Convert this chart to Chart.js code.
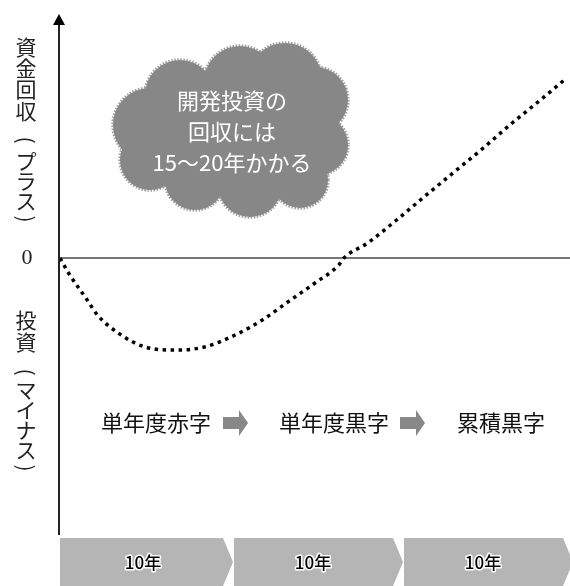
<!DOCTYPE html>
<html>
<head>
<meta charset="utf-8">
<script src="https://cdn.jsdelivr.net/npm/chart.js@4"></script>
<style>
html, body { margin: 0; padding: 0; background: #fff; }
</style>
</head>
<body>
<canvas id="chart" width="570" height="586"></canvas>
<script>
// curve: years since start, cumulative cash (arbitrary units)
const years  = [0, 0.5, 1.6, 2.2, 3.6, 5.0, 6.8, 8.5, 10.3, 11.9, 13.4, 15.0, 16.4, 16.7, 18.1, 19.8, 21.2, 22.9, 24.9, 26.6, 28.4, 29.8];
const values = [0, -15, -42, -57, -77, -89, -92, -89, -77, -62, -44, -25, -7, 0, 15, 38, 58, 82, 110, 135, 160, 180];

const periods = ['10年', '10年', '10年'];
const periodBounds = [0, 10, 20, 30];
const stages = ['単年度赤字', '単年度黒字', '累積黒字'];
const cloudLines = ['開発投資の', '回収には', '15〜20年かかる'];
const upperLabel = '資金回収（プラス）';
const lowerLabel = '投資（マイナス）';
const zeroLabel = '0';

const JP = '"Noto Sans CJK JP", sans-serif';

function drawVertical(ctx, str, x, centers) {
    [...str].forEach((ch, i) => {
        ctx.save();
        ctx.translate(x, centers[i]);
        if (ch === '（' || ch === '）') {
            ctx.rotate(Math.PI / 2);
            ch = ch === '（' ? '(' : ')';
        }
        ctx.fillText(ch, 0, 0);
        ctx.restore();
    });
}

function drawCloud(ctx) {
    const lobes = [
        [150, 125, 37], [180, 95, 35], [240, 82, 36], [285, 80, 37], [315, 100, 33],
        [318, 145, 30], [300, 180, 28], [250, 185, 32], [195, 180, 30], [150, 160, 30],
        [232, 135, 60], [285, 130, 36]
    ];
    ctx.save();
    ctx.strokeStyle = '#a0a0a0';
    ctx.lineWidth = 3.5;
    ctx.setLineDash([1.5, 1.5]);
    lobes.forEach(([cx, cy, r]) => {
        ctx.beginPath(); ctx.arc(cx, cy, r, 0, Math.PI * 2); ctx.stroke();
    });
    ctx.setLineDash([]);
    ctx.fillStyle = '#878787';
    lobes.forEach(([cx, cy, r]) => {
        ctx.beginPath(); ctx.arc(cx, cy, r, 0, Math.PI * 2); ctx.fill();
    });
    ctx.fillStyle = '#fff';
    ctx.font = '22px ' + JP;
    ctx.textAlign = 'center';
    ctx.textBaseline = 'middle';
    cloudLines.forEach((t, i) => ctx.fillText(t, 232, 101 + i * 31));
    ctx.restore();
}

const extras = {
    id: 'extras',
    beforeDatasetsDraw(chart) {
        const {ctx, chartArea: a, scales: {x, y}} = chart;
        const y0 = y.getPixelForValue(0);
        ctx.save();
        // zero line
        ctx.strokeStyle = '#777';
        ctx.lineWidth = 2;
        ctx.beginPath(); ctx.moveTo(a.left, y0); ctx.lineTo(a.right, y0); ctx.stroke();
        // vertical axis + arrow
        ctx.strokeStyle = '#222';
        ctx.beginPath(); ctx.moveTo(a.left - 1, a.top + 2); ctx.lineTo(a.left - 1, a.bottom); ctx.stroke();
        ctx.fillStyle = '#000';
        ctx.beginPath();
        ctx.moveTo(a.left - 1, a.top - 6);
        ctx.lineTo(a.left - 7, a.top + 5);
        ctx.lineTo(a.left + 5, a.top + 5);
        ctx.closePath(); ctx.fill();

        // y labels
        ctx.fillStyle = '#222';
        ctx.textAlign = 'center';
        ctx.textBaseline = 'middle';
        ctx.font = '21px ' + JP;
        drawVertical(ctx, upperLabel, 26, [47, 68, 89, 111, 140, 161, 181, 201, 219]);
        drawVertical(ctx, lowerLabel, 26, [320, 342, 372, 390, 410, 430, 450, 468]);
        ctx.font = '22px "Liberation Serif", serif';
        ctx.fillText(zeroLabel, 27, y0);

        // stage texts and arrows
        ctx.font = '22px ' + JP;
        ctx.fillStyle = '#111';
        const stageX = [156, 334, 501];
        stages.forEach((t, i) => ctx.fillText(t, stageX[i], 423));
        ctx.fillStyle = '#888';
        [223, 400].forEach(ax => {
            ctx.fillRect(ax, 417, 17, 12);
            ctx.beginPath();
            ctx.moveTo(ax + 16, 410); ctx.lineTo(ax + 25, 423); ctx.lineTo(ax + 16, 436);
            ctx.closePath(); ctx.fill();
        });

        // period chevrons along the x scale
        const top = a.bottom + 3, bot = a.bottom + 51, mid = (top + bot) / 2;
        periods.forEach((t, i) => {
            const l = x.getPixelForValue(periodBounds[i]) + (i ? 4 : 0);
            const tip = x.getPixelForValue(periodBounds[i + 1]) + 3;
            ctx.fillStyle = '#b5b5b5';
            ctx.beginPath();
            ctx.moveTo(l, top); ctx.lineTo(tip - 10, top); ctx.lineTo(tip, mid);
            ctx.lineTo(tip - 10, bot); ctx.lineTo(l, bot); ctx.closePath(); ctx.fill();
            ctx.font = '500 17px ' + JP;
            ctx.lineWidth = 3;
            ctx.lineJoin = 'round';
            ctx.strokeStyle = '#fff';
            const cx = (x.getPixelForValue(periodBounds[i]) + x.getPixelForValue(periodBounds[i + 1])) / 2 - 2;
            ctx.strokeText(t, cx, mid + 1);
            ctx.fillStyle = '#000';
            ctx.fillText(t, cx, mid + 1);
        });

        drawCloud(ctx);
        ctx.restore();
    }
};

new Chart(document.getElementById('chart'), {
    type: 'line',
    data: {
        datasets: [{
            data: years.map((yr, i) => ({x: yr, y: values[i]})),
            borderColor: '#000',
            borderWidth: 3.5,
            borderDash: [3.5, 4.5],
            borderCapStyle: 'butt',
            pointRadius: 0,
            fill: false,
            cubicInterpolationMode: 'monotone'
        }]
    },
    options: {
        responsive: false,
        animation: false,
        layout: {padding: {left: 60, top: 20, right: 0, bottom: 51}},
        plugins: {legend: {display: false}, tooltip: {enabled: false}},
        scales: {
            x: {type: 'linear', min: 0, max: 30, display: false},
            y: {min: -277, max: 238, display: false}
        }
    },
    plugins: [extras]
});
</script>
</body>
</html>
